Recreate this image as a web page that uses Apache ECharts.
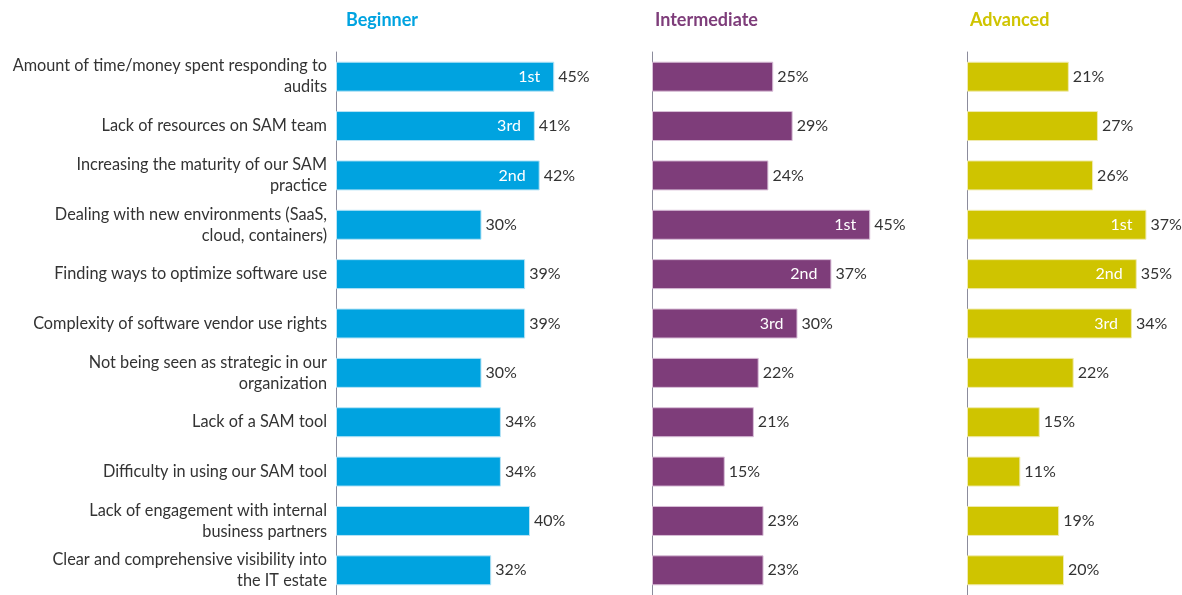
<!DOCTYPE html>
<html>
<head>
<meta charset="utf-8">
<script src="https://cdn.jsdelivr.net/npm/echarts@6/dist/echarts.min.js"></script>
<style>
  html, body { margin: 0; padding: 0; background: #fff; }
  #chart { width: 1182px; height: 595px; }
</style>
</head>
<body>
<div id="chart"></div>
<script>
var categories = [
  'Amount of time/money spent responding to\naudits',
  'Lack of resources on SAM team',
  'Increasing the maturity of our SAM\npractice',
  'Dealing with new environments (SaaS,\ncloud, containers)',
  'Finding ways to optimize software use',
  'Complexity of software vendor use rights',
  'Not being seen as strategic in our\norganization',
  'Lack of a SAM tool',
  'Difficulty in using our SAM tool',
  'Lack of engagement with internal\nbusiness partners',
  'Clear and comprehensive visibility into\nthe IT estate'
];
var groups = ['Beginner', 'Intermediate', 'Advanced'];
var beginner = [45, 41, 42, 30, 39, 39, 30, 34, 34, 40, 32];
var intermediate = [25, 29, 24, 45, 37, 30, 22, 21, 15, 23, 23];
var advanced = [21, 27, 26, 37, 35, 34, 22, 15, 11, 19, 20];
var beginnerRank = ['1st', '3rd', '2nd', '', '', '', '', '', '', '', ''];
var intermediateRank = ['', '', '', '1st', '2nd', '3rd', '', '', '', '', ''];
var advancedRank = ['', '', '', '1st', '2nd', '3rd', '', '', '', '', ''];

var colors = ['#00a3e0', '#7e3d7a', '#cfc400'];
var borders = ['#b8e4f6', '#d9bfd8', '#f0ebb0'];
var values = [beginner, intermediate, advanced];
var ranks = [beginnerRank, intermediateRank, advancedRank];
var lefts = [336, 652, 967];
// same px per percent in every panel (~4.85), last one narrower to stay on canvas
var maxes = [50, 50, 40];
var font = 'Lato, "Noto Sans", sans-serif';

var chart = echarts.init(document.getElementById('chart'));

var grid = [], xAxis = [], yAxis = [], series = [], title = [];
for (var i = 0; i < 3; i++) {
  grid.push({ left: lefts[i], top: 52, width: maxes[i] * 4.85, height: 547 });
  xAxis.push({ gridIndex: i, type: 'value', min: 0, max: maxes[i], show: false });
  yAxis.push({
    gridIndex: i,
    type: 'category',
    inverse: true,
    data: categories,
    axisLine: { show: true, lineStyle: { color: '#8c8c9c', width: 1 } },
    axisTick: { show: false },
    axisLabel: {
      show: i === 0,
      color: '#333',
      fontSize: 16.3,
      fontFamily: font,
      lineHeight: 21,
      margin: 9,
      align: 'right'
    }
  });
  title.push({
    text: groups[i],
    left: lefts[i] + [5, -2, -2][i],
    top: 6,
    textStyle: { color: colors[i], fontSize: 18, fontWeight: 'bold', fontFamily: font }
  });
  series.push({
    name: groups[i],
    type: 'bar',
    xAxisIndex: i,
    yAxisIndex: i,
    barWidth: 30,
    data: values[i],
    itemStyle: { color: colors[i], borderColor: borders[i], borderWidth: 1 },
    label: {
      show: true,
      position: 'right',
      distance: 4,
      formatter: '{c}%',
      color: '#333',
      fontSize: 16,
      fontFamily: font
    },
    z: 2
  });
  (function (r) {
    series.push({
      type: 'bar',
      xAxisIndex: i,
      yAxisIndex: i,
      barWidth: 30,
      barGap: '-100%',
      data: values[i],
      itemStyle: { color: 'transparent' },
      label: {
        show: true,
        position: 'insideRight',
        distance: 14,
        formatter: function (p) { return r[p.dataIndex]; },
        color: '#fff',
        fontSize: 16,
        fontFamily: font
      },
      silent: true,
      z: 3
    });
  })(ranks[i]);
}

chart.setOption({
  animation: false,
  title: title,
  grid: grid,
  xAxis: xAxis,
  yAxis: yAxis,
  series: series
});
</script>
</body>
</html>
